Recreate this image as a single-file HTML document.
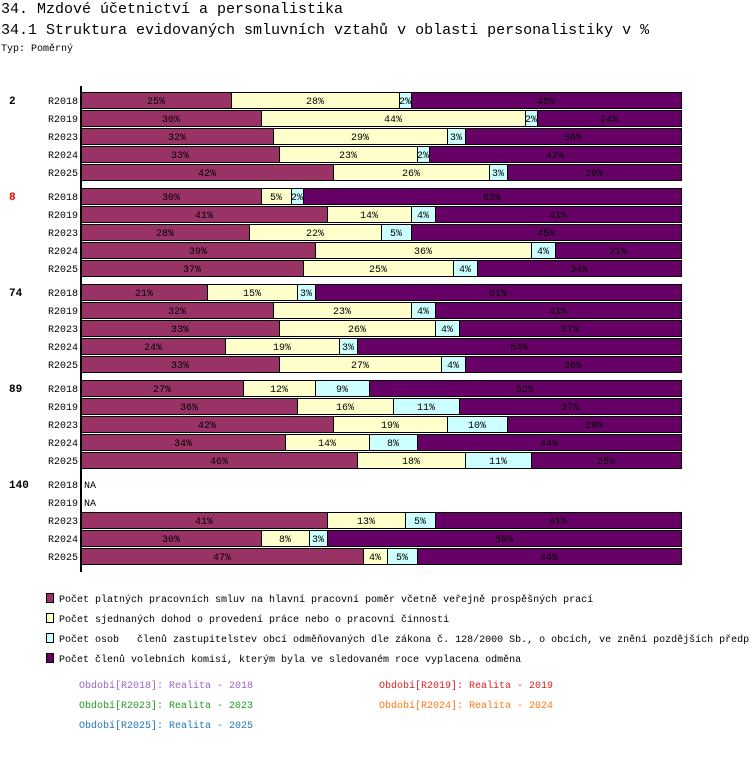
<!DOCTYPE html>
<html><head><meta charset="utf-8"><style>
body{margin:0;width:750px;height:782px;background:#fff;font-family:"Liberation Mono","DejaVu Sans Mono",monospace;overflow:hidden;position:relative}
.t{position:absolute;white-space:nowrap;line-height:1}
</style></head><body>
<div class="t" style="left:1px;top:2px;font-size:15px">34. Mzdové účetnictví a personalistika</div>
<div class="t" style="left:1px;top:23px;font-size:15px">34.1 Struktura evidovaných smluvních vztahů v oblasti personalistiky v %</div>
<div class="t" style="left:1px;top:45px;font-size:10px">Typ: Poměrný</div>
<svg id="c" width="750" height="782" style="position:absolute;left:0;top:0"></svg>
<script>
const groups=["2","8","74","89","140"];
const groupColors=["#000","#e00","#000","#000","#000"];
const periods=["R2018","R2019","R2023","R2024","R2025"];
const s1=[[25,30,32,33,42],[30,41,28,39,37],[21,32,33,24,33],[27,36,42,34,46],[null,null,41,30,47]];
const s2=[[28,44,29,23,26],[5,14,22,36,25],[15,23,26,19,27],[12,16,19,14,18],[null,null,13,8,4]];
const s3=[[2,2,3,2,3],[2,4,5,4,4],[3,4,4,3,4],[9,11,10,8,11],[null,null,5,3,5]];
const s4=[[45,24,36,42,29],[63,41,45,21,34],[61,41,37,54,36],[52,37,29,44,25],[null,null,41,59,44]];
const seriesNames=["Počet platných pracovních smluv na hlavní pracovní poměr včetně veřejně prospěšných prací","Počet sjednaných dohod o provedení práce nebo o pracovní činnosti","Počet osob   členů zastupitelstev obcí odměňovaných dle zákona č. 128/2000 Sb., o obcích, ve znění pozdějších předpisů","Počet členů volebních komisí, kterým byla ve sledovaném roce vyplacena odměna"];
const colors=["#993366","#ffffcc","#ccffff","#660066"];
const NS="http://www.w3.org/2000/svg";
const svg=document.getElementById('c');
const X0=81,W=600,Y0=92,GSTEP=96,RSTEP=18,BH=16;
function x(v){return X0+v/100*W;}
function y(g,r){return Y0+g*GSTEP+r*RSTEP;}
function el(t,a){const e=document.createElementNS(NS,t);for(const k in a)e.setAttribute(k,a[k]);svg.appendChild(e);return e;}
const ser=[s1,s2,s3,s4];
groups.forEach((gn,g)=>{
  const gl=el('text',{x:9,y:y(g,0)+12,'font-size':11,'font-weight':'bold',fill:groupColors[g],'font-family':'Liberation Mono,monospace'});
  gl.textContent=gn;
  
  
  periods.forEach((p,r)=>{
    const yy=y(g,r);
    const pl=el('text',{x:78,y:yy+12,'font-size':10,'text-anchor':'end','font-family':'Liberation Mono,monospace'});
    pl.textContent=p;
    
    
    if(s1[g][r]==null){
      const na=el('text',{x:84,y:yy+12,'font-size':10,'font-family':'Liberation Mono,monospace'});
      na.textContent='NA';
      
      
      return;
    }
    const vals=ser.map(s=>s[g][r]);const sum=vals.reduce((a,b)=>a+b,0);
    let acc=0;
    vals.forEach((v,i)=>{
      const x1=x(acc/sum*100),x2=x((acc+v)/sum*100);acc+=v;
      const rc=el('rect',{x:x1+0.5,y:yy+0.5,width:x2-x1,height:BH,fill:colors[i],stroke:'#000','stroke-width':1});
      
      
      const tx=el('text',{x:(x1+x2)/2,y:yy+12,'font-size':10,'text-anchor':'middle','font-family':'Liberation Mono,monospace',fill:'#000'});
      tx.textContent=v+'%';
      
      
    });
  });
});
const ax=el('line',{x1:81,y1:86,x2:81,y2:572,stroke:'#000','stroke-width':2});


seriesNames.forEach((n,i)=>{
  const yy=593+i*20;
  const r=el('rect',{x:46.5,y:yy+0.5,width:7,height:9,fill:colors[i],stroke:'#000'});
  
  
  const t=el('text',{x:59,y:yy+9,'font-size':10,'font-family':'Liberation Mono,monospace',style:'white-space:pre'});
  t.textContent=n;
  
  
});
const pLab=["Období[R2018]: Realita - 2018","Období[R2019]: Realita - 2019","Období[R2023]: Realita - 2023","Období[R2024]: Realita - 2024","Období[R2025]: Realita - 2025"];
const pCol=["#9966cc","#dd2222","#229922","#ff7711","#2277bb"];
pLab.forEach((l,i)=>{
  const t=el('text',{x:i%2?379:79,y:688+Math.floor(i/2)*20,'font-size':10,fill:pCol[i],'font-family':'Liberation Mono,monospace'});
  t.textContent=l;
  
  
});
</script>
</body></html>
